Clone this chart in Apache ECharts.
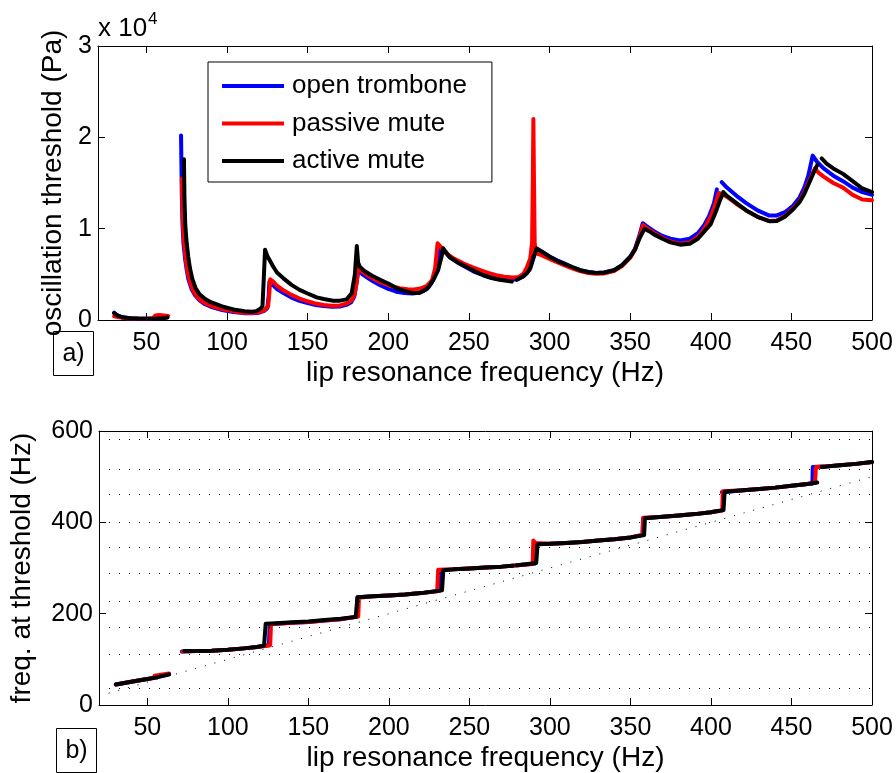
<!DOCTYPE html>
<html>
<head>
<meta charset="utf-8">
<title>trombone mute thresholds</title>
<script src="https://cdn.jsdelivr.net/npm/echarts@6/dist/echarts.min.js"></script>
<style>
  html, body { margin: 0; padding: 0; background: #fff; }
  #main { width: 896px; height: 773px; }
</style>
</head>
<body>
<div id="main"></div>
<script>
/* data; a null y marks a break in the curve */
var seriesNames = ['open trombone', 'passive mute', 'active mute'];
var seriesColors = ['#0000ff', '#ff0000', '#000000'];
var freqTicks = [50, 100, 150, 200, 250, 300, 350, 400, 450, 500];

/* (a) oscillation threshold, Pa */
var openThreshold = [
    [30,800],[32,500],[35,300],[40,200],[45,160],[50,150],[55,170],[60,220],[63,300],[63.5,null],
    [71.5,20200],[72,13500],[72.4,10500],[73,8400],[74,6700],[75,5500],[76,4500],[78,3400],[80,2750],[83,2150],[86,1750],[90,1450],[97,1100],[104,870],[111,750],[116,730],[120,800],[123,1000],[125,1300],[125.8,2600],[126.3,4200],
    [128,3900],[131,3400],[135,2950],[140,2450],[145,2100],[150,1850],[155,1650],[160,1520],[165,1450],[170,1480],[174,1650],[177,1950],[179,2600],[180.3,4000],[181.5,5500],
    [184,5000],[190,4300],[195,3800],[200,3400],[205,3100],[210,2950],[215,2900],[220,3000],[224,3400],[227,4100],[229,5000],[231,6400],[232.5,7900],
    [235,7500],[238,6900],[243,6300],[248,5800],[253,5300],[259,4900],[265,4600],[271,4450],[276,4400],[280,4450],[284,4800],[287,5400],[289,6200],[290.5,7000],[291.8,7800],
    [295,7500],[300,6950],[305,6500],[309,6200],[314,5800],[319,5450],[324,5250],[329,5150],[334,5200],[340,5450],[345,6000],[350,6900],[353,7800],[356,9400],[357.8,10600],
    [360,10300],[365,9700],[370,9200],[375,8900],[381,8700],[387,8900],[392,9500],[396,10400],[399,11400],[402,12800],[403.8,14300],[405,null],
    [406.8,15100],[410,14500],[416,13600],[422,12800],[429,12000],[436,11450],[441,11450],[446,11800],[451,12500],[455,13400],[458,14500],[460.5,15800],[463.2,18000],
    [466,17300],[470,16600],[476,15800],[482,15200],[488,14500],[494,14000],[500,13700]
];
var passiveThreshold = [
    [30,400],[33,300],[38,200],[45,150],[50,150],[54,180],[55.5,500],[58,550],[61,500],[63.5,450],[64,null],
    [72,15500],[72.3,12500],[72.8,10000],[73.5,8200],[74.5,6500],[75.5,5300],[77,4200],[79,3200],[81,2650],[84,2100],[88,1700],[92,1450],[98,1150],[105,920],[111,800],[116,780],[120,850],[123,1050],[125.5,1500],[126.3,3000],[126.8,4450],
    [128.7,4200],[131,3750],[135,3250],[140,2750],[145,2350],[150,2050],[155,1800],[160,1650],[165,1550],[170,1600],[174,1800],[177,2100],[179,2700],[180.5,4200],[181.4,5830],
    [184,5300],[187,4900],[192,4400],[197,4000],[202,3700],[207,3480],[212,3380],[216,3350],[220,3450],[224,3750],[227,4300],[229,5600],[230.6,8400],
    [233,7900],[236,7300],[241,6700],[246.5,6200],[252,5800],[257,5470],[262,5150],[267,4900],[272,4750],[277.6,4650],[281,4700],[284,5100],[286,5800],[288,6700],[289.2,8500],[289.7,16000],[290,22000],[290.4,15000],[290.8,8500],[291.5,7300],
    [295,7100],[300,6700],[305,6300],[309,6000],[314,5650],[319,5350],[324,5150],[329,5050],[334,5100],[340,5350],[345,5900],[350,6800],[353,7700],[356,9200],[358,10400],
    [360,10100],[365,9500],[370,9000],[375,8600],[381,8350],[387,8500],[392,9100],[396,10000],[400,11300],[403,12800],[405,13900],
    [407,13800],[410,13500],[416,12700],[422,12000],[429,11300],[436,10850],[441,10900],[446,11400],[451,12200],[455,13000],[458,14000],[461,15200],[464.6,16600],
    [467,16100],[470,15700],[476,15000],[482,14500],[488,13700],[494,13200],[500,13100]
];
var activeThreshold = [
    [30,750],[32,500],[35,300],[40,200],[45,150],[50,140],[55,150],[60,200],[63,280],[63.5,null],
    [73.3,17600],[73.6,13500],[74.1,10500],[75,8400],[76,6900],[77,5700],[78.5,4500],[80.5,3500],[83,2800],[86.5,2300],[90,1950],[97,1480],[104,1150],[111,950],[115,900],[118,950],[120.5,1200],[122,1500],[122.8,4500],[123.6,7700],
    [125,7000],[128.7,5830],[131,5200],[135,4560],[140,3850],[145,3300],[150,2900],[155.6,2480],[160,2300],[165.9,2110],[170,2120],[174.2,2260],[177.3,2920],[179.3,5000],[180.5,8100],
    [181.3,6300],[182.5,5800],[185,5400],[190,4850],[195,4400],[200,4000],[205,3500],[210,3200],[215,2950],[219,2950],[222,3200],[225,3600],[228,4400],[231,5500],[233,6900],[234.1,7850],
    [238,6900],[243,6300],[248.6,5800],[254,5300],[259,4900],[264,4600],[269,4400],[276.6,4200],[277.5,null],
    [279.7,4400],[283,4700],[285.9,5100],[288,5600],[290,6900],[292.1,7850],
    [296,7400],[300.3,6900],[305,6450],[308.6,6200],[314,5800],[319,5450],[324,5250],[329,5150],[334,5200],[340,5450],[345,6000],[350,6900],[353,7700],[356,9000],[359,10000],
    [362,9700],[365,9350],[370,8900],[375,8500],[381,8250],[387,8350],[392,8900],[396,9700],[400,10500],[403,11800],[405.5,13000],[407.8,14000],
    [410,13600],[416,12800],[422,12000],[429,11300],[436.7,10800],[441,10850],[446,11300],[451,12100],[455,12900],[458,13800],[461,15000],[464,16200],[466.1,17000],[467,null],
    [468.8,17700],[472,17100],[476,16600],[482,16000],[488,15200],[494,14400],[500,14000]
];

/* (b) playing frequency at threshold, Hz */
var openFreq = [
    [30.5,45],[40,51],[50,57],[55,60],[63.5,67],[64,null],
    [71.5,117],[80,118],[90,119],[100,121],[110,124],[118,127],[125.5,131],[126,177],[130,178],[140,180],[150,182],[160,185],[170,188],[180,193],[180.5,236],
    [190,238],[200,240],[210,242],[220,245],[231.5,250],[232,295],[240,297],[250,299],[260,301],[270,303],[280,306],[291,310],[291.5,352],
    [300,353],[310,355],[320,357],[330,360],[340,363],[350,367],[357.5,372],[357.8,409],[370,412],[380,415],[390,418],[400,422],[404,425],[404.5,null],
    [406.8,466],[420,470],[430,473],[440,476],[450,480],[463,485],[463.2,521],[470,522],[480,525],[490,528],[500,532]
];
var passiveFreq = [
    [30.5,45],[40,51],[50,57],[54,59],[54.5,64],[63.5,69],[64,null],
    [72,117],[80,118],[90,119],[100,121],[110,124],[118,127],[126.3,131],[126.8,177],[130,178],[140,180],[150,182],[160,185],[170,188],[181,194],[181.4,235],
    [190,238],[200,240],[210,242],[220,245],[230,249],[230.6,296],[240,297],[250,299],[260,301],[270,303],[280,306],[289.3,309],[289.7,360],[291,355],
    [300,353],[310,355],[320,357],[330,360],[340,363],[350,367],[357.5,373],[358,410],[370,412],[380,415],[390,418],[400,422],[407,426],[407.3,468],
    [420,470],[430,473],[440,476],[450,480],[464.6,486],[465.2,521],[470,522],[480,525],[490,528],[500,532]
];
var activeFreq = [
    [30.5,45],[40,51],[50,57],[55,60],[63.5,67],[64,null],
    [73,118],[80,118],[90,119],[100,121],[110,124],[118,127],[122.5,130],[123.5,178],[130,179],[140,181],[150,183],[160,186],[170,189],[179.4,193],[180.5,236],
    [190,238],[200,240],[210,242],[220,245],[233,251],[233.8,295],[240,297],[250,299],[260,301],[270,303],[277,305],[278,null],
    [279.5,306],[285,308],[291.5,311],[292.3,352],[300,353],[310,355],[320,357],[330,360],[340,363],[350,367],[358.5,372],[359,409],
    [370,412],[380,415],[390,418],[400,422],[407.8,427],[408.5,467],[420,470],[430,473],[440,476],[450,480],[460,484],[466,487],[467,null],
    [468.8,521],[480,525],[490,528],[500,532]
];
/* dotted reference lines: trombone resonances and f = f_lip */
var resonances = [37, 112, 171, 228, 288, 346, 401, 461, 516, 582];
var identityLine = [[20, 20], [500, 500]];

var FONT = 'Liberation Sans';
var chart = echarts.init(document.getElementById('main'));

function xAxisOf(grid, pos, title) {
    var ax = {
        type: 'value', gridIndex: grid, position: pos, min: 20, max: 500,
        axisLine: { show: true, onZero: false, lineStyle: { color: '#000', width: 1 } },
        axisTick: { show: true, inside: true, length: 7, customValues: freqTicks, lineStyle: { color: '#000' } },
        axisLabel: { show: false },
        splitLine: { show: false }
    };
    if (title) {
        ax.axisLabel = { show: true, customValues: freqTicks, fontSize: 25, color: '#000', fontFamily: FONT, margin: 11 };
        ax.name = title;
        ax.nameLocation = 'middle';
        ax.nameGap = 39;
        ax.nameTextStyle = { fontSize: 28, color: '#000', fontFamily: FONT };
    }
    return ax;
}
function yAxisOf(grid, pos, max, step, title, gap, fmt) {
    var ax = {
        type: 'value', gridIndex: grid, position: pos, min: 0, max: max, interval: step,
        axisLine: { show: true, onZero: false, lineStyle: { color: '#000', width: 1 } },
        axisTick: { show: true, inside: true, length: 7, lineStyle: { color: '#000' } },
        axisLabel: { show: false },
        splitLine: { show: false }
    };
    if (title) {
        ax.axisLabel = { show: true, fontSize: 25, color: '#000', fontFamily: FONT, margin: 6, formatter: fmt };
        ax.name = title;
        ax.nameLocation = 'middle';
        ax.nameGap = gap;
        ax.nameTextStyle = { fontSize: 28, color: '#000', fontFamily: FONT };
    }
    return ax;
}
function curve(i, data, xi) {
    return {
        name: seriesNames[i], type: 'line', data: data,
        xAxisIndex: xi, yAxisIndex: xi,
        symbol: 'none', showSymbol: false, connectNulls: false, silent: true,
        color: seriesColors[i],
        lineStyle: { color: seriesColors[i], width: 4, cap: 'round', join: 'round' }
    };
}

var option = {
    animation: false,
    backgroundColor: '#fff',
    grid: [
        { left: 98, top: 46, width: 774, height: 274 },
        { left: 98, top: 431, width: 774, height: 274 }
    ],
    xAxis: [
        xAxisOf(0, 'bottom', 'lip resonance frequency (Hz)'),
        xAxisOf(0, 'top'),
        xAxisOf(1, 'bottom', 'lip resonance frequency (Hz)'),
        xAxisOf(1, 'top')
    ],
    yAxis: [
        yAxisOf(0, 'left', 30000, 10000, 'oscillation threshold (Pa)', 31, function (v) { return v / 10000; }),
        yAxisOf(0, 'right', 30000, 10000),
        yAxisOf(1, 'left', 600, 200, 'freq. at threshold (Hz)', 63),
        yAxisOf(1, 'right', 600, 200)
    ],
    legend: {
        data: seriesNames,
        orient: 'vertical',
        left: 208, top: 62,
        icon: 'rect', itemWidth: 62, itemHeight: 4, itemGap: 11.5,
        padding: [11, 25, 8, 14],
        borderColor: '#000', borderWidth: 1, backgroundColor: '#fff',
        textStyle: { fontSize: 26, color: '#000', fontFamily: FONT, padding: [0, 0, 0, 3] },
        selectedMode: false
    },
    graphic: [
        { type: 'text', x: 98, y: 29, style: { text: 'x 10', font: '26px "Liberation Sans"', fill: '#000', verticalAlign: 'middle' } },
        { type: 'text', x: 148, y: 19, style: { text: '4', font: '17px "Liberation Sans"', fill: '#000', verticalAlign: 'middle' } },
        { type: 'rect', shape: { x: 53.5, y: 331.5, width: 40, height: 44 }, style: { fill: 'none', stroke: '#000', lineWidth: 1 } },
        { type: 'text', x: 73.5, y: 354, style: { text: 'a)', font: '25px "Liberation Sans"', fill: '#000', align: 'center', verticalAlign: 'middle' } },
        { type: 'rect', shape: { x: 56.5, y: 728.5, width: 40, height: 44 }, style: { fill: 'none', stroke: '#000', lineWidth: 1 } },
        { type: 'text', x: 76.5, y: 751, style: { text: 'b)', font: '25px "Liberation Sans"', fill: '#000', align: 'center', verticalAlign: 'middle' } }
    ],
    series: [
        {
            name: 'reference', type: 'line', data: identityLine,
            xAxisIndex: 2, yAxisIndex: 2, symbol: 'none', silent: true,
            color: '#000',
            lineStyle: { color: '#000', width: 1, type: [1, 9] },
            markLine: {
                silent: true, symbol: 'none', label: { show: false },
                lineStyle: { color: '#000', width: 1, type: [1, 9] },
                data: resonances.map(function (f) { return { yAxis: f }; })
            }
        },
        curve(0, openThreshold, 0),
        curve(1, passiveThreshold, 0),
        curve(2, activeThreshold, 0),
        curve(0, openFreq, 2),
        curve(1, passiveFreq, 2),
        curve(2, activeFreq, 2)
    ]
};
chart.setOption(option);
</script>
</body>
</html>
